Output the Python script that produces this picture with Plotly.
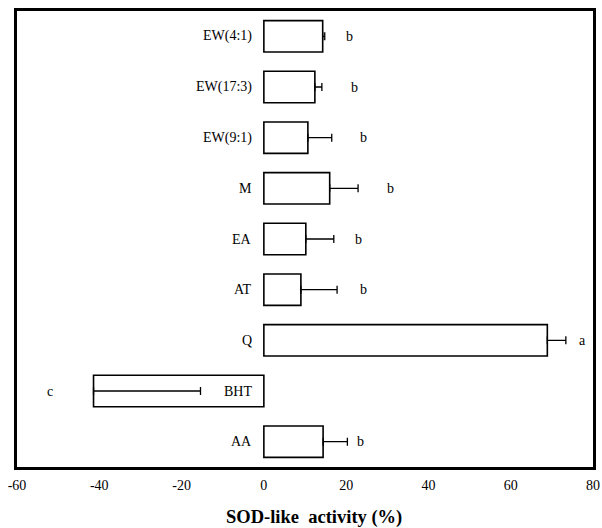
import plotly.graph_objects as go

# SOD-like activity (%) per sample, with error (drawn toward +x) and significance letter
samples = ["EW(4:1)", "EW(17:3)", "EW(9:1)", "M", "EA", "AT", "Q", "BHT", "AA"]
activity = [14.3, 12.4, 10.7, 16.0, 10.2, 9.0, 68.9, -41.4, 14.4]
error = [0.5, 1.7, 5.8, 6.9, 6.8, 8.8, 4.5, 26.0, 5.9]
letters = ["b", "b", "b", "b", "b", "b", "a", "c", "b"]
letter_x = [20.9, 22.1, 24.1, 30.7, 23.1, 24.1, 77.4, -52.0, 23.6]
x_ticks = [-60, -40, -20, 0, 20, 40, 60, 80]

serif = "Liberation Serif, Times New Roman, serif"

fig = go.Figure(
    go.Bar(
        y=samples,
        x=activity,
        orientation="h",
        width=0.62,
        marker=dict(color="white", line=dict(color="black", width=1.6)),
        error_x=dict(
            type="data",
            symmetric=False,
            array=error,
            arrayminus=[0] * len(error),
            color="black",
            thickness=1.3,
            width=4,
        ),
    )
)

annotations = []
for s, l, lx in zip(samples, letters, letter_x):
    # sample name, right-aligned just left of zero
    annotations.append(dict(
        x=-2.5, y=s, xref="x", yref="y", text=s, showarrow=False,
        xanchor="right", yanchor="middle", font=dict(family=serif, size=14, color="black"),
    ))
    # significance letter
    annotations.append(dict(
        x=lx, y=s, xref="x", yref="y", text=l, showarrow=False,
        xanchor="center", yanchor="middle", font=dict(family=serif, size=14, color="black"),
    ))

annotations.append(dict(
    x=0.515, y=-0.11, xref="paper", yref="paper", text="<b>SOD-like  activity (%)</b>",
    showarrow=False, xanchor="center", yanchor="middle",
    font=dict(family=serif, size=18.5, color="black"),
))

fig.update_layout(
    width=602,
    height=528,
    margin=dict(l=17, r=9, t=11, b=61),
    paper_bgcolor="white",
    plot_bgcolor="white",
    showlegend=False,
    annotations=annotations,
    xaxis=dict(
        range=[-60, 80],
        tickvals=x_ticks,
        ticktext=[str(v) for v in x_ticks],
        automargin=False,
        ticklabeloverflow="allow",
        showgrid=False,
        zeroline=False,
        showline=True,
        mirror=True,
        linecolor="black",
        linewidth=2.5,
        ticks="",
        ticklabelstandoff=3,
        tickfont=dict(family=serif, size=14, color="black"),
    ),
    yaxis=dict(
        categoryorder="array",
        categoryarray=samples,
        range=[8.5, -0.5],
        automargin=False,
        showticklabels=False,
        showgrid=False,
        zeroline=False,
        showline=True,
        mirror=True,
        linecolor="black",
        linewidth=2.5,
        ticks="",
    ),
)

fig.write_html("out.html")
